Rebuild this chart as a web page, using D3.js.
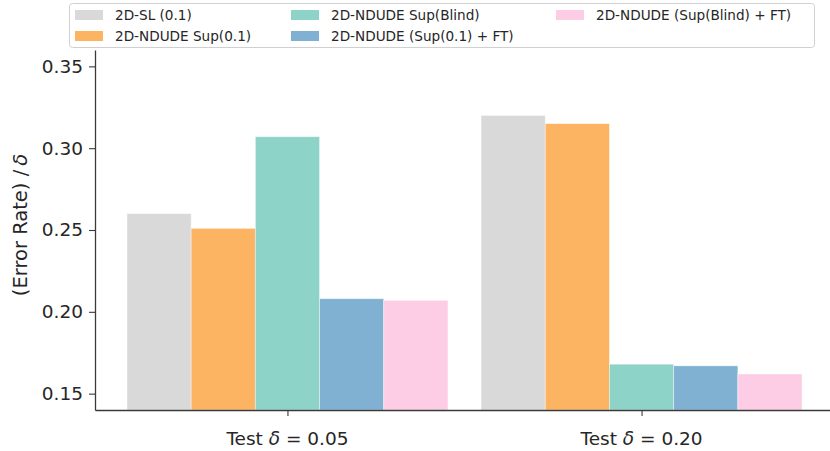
<!DOCTYPE html>
<html>
<head>
<meta charset="utf-8">
<script src="https://cdn.jsdelivr.net/npm/d3@7"></script>
<style>
  body { margin: 0; background: #fff; }
  text { font-family: "DejaVu Sans", sans-serif; fill: #262626; }
</style>
</head>
<body>
<div id="chart"></div>
<script>
// data
let groupLabels = ["Test δ = 0.05", "Test δ = 0.20"];
let seriesNames = [
    "2D-SL (0.1)",
    "2D-NDUDE Sup(0.1)",
    "2D-NDUDE Sup(Blind)",
    "2D-NDUDE (Sup(0.1) + FT)",
    "2D-NDUDE (Sup(Blind) + FT)"
];
let slValues = [0.260, 0.320];
let sup01Values = [0.251, 0.315];
let supBlindValues = [0.307, 0.168];
let sup01FtValues = [0.208, 0.167];
let supBlindFtValues = [0.207, 0.162];
let yTicks = [0.15, 0.20, 0.25, 0.30, 0.35];

let seriesValues = [slValues, sup01Values, supBlindValues, sup01FtValues, supBlindFtValues];
let colors = ["#d9d9d9", "#fdb462", "#8dd3c7", "#80b1d3", "#fccde5"];

let svgWidth = 830;
let svgHeight = 451;

let margin = { top: 50, left: 95, bottom: 41, right: -4 };
let width = svgWidth - margin.left - margin.right;
let height = svgHeight - margin.top - margin.bottom;

let svg = d3.select("#chart")
    .append("svg")
    .attr("width", svgWidth)
    .attr("height", svgHeight);

let chartGroup = svg.append("g")
    .attr("transform", `translate(${margin.left}, ${margin.top})`);

// scales
let barWidth = 0.1813;
let xLinearScale = d3.scaleLinear()
    .domain([-0.5435, 1.5435])
    .range([0, width]);

let yLinearScale = d3.scaleLinear()
    .domain([0.14, 0.36])
    .range([height, 0]);

// bars
let bars = [];
seriesValues.forEach(function (vals, s) {
    vals.forEach(function (v, g) {
        bars.push({ s: s, g: g, v: v });
    });
});

chartGroup.selectAll("rect.bar")
    .data(bars)
    .enter()
    .append("rect")
    .attr("class", "bar")
    .attr("x", d => xLinearScale(d.g + (d.s - 2) * barWidth - barWidth / 2))
    .attr("width", d => xLinearScale(barWidth) - xLinearScale(0))
    .attr("y", d => yLinearScale(d.v))
    .attr("height", d => height - yLinearScale(d.v))
    .attr("fill", d => colors[d.s])
    .attr("stroke", "#ffffff")
    .attr("stroke-opacity", 0.5)
    .attr("stroke-width", 0.8);

// axes
let yAxis = d3.axisLeft(yLinearScale)
    .tickValues(yTicks)
    .tickFormat(d3.format(".2f"))
    .tickSize(6)
    .tickPadding(6)
    .tickSizeOuter(0);

let xAxis = d3.axisBottom(xLinearScale)
    .tickValues([0, 1])
    .tickFormat("")
    .tickSize(6)
    .tickSizeOuter(0);

let yAxisG = chartGroup.append("g").call(yAxis);
let xAxisG = chartGroup.append("g")
    .attr("transform", `translate(0, ${height})`)
    .call(xAxis);

[yAxisG, xAxisG].forEach(function (ax) {
    ax.select(".domain").attr("stroke", "#3a3a3a").attr("stroke-width", 1.3);
    ax.selectAll(".tick line").attr("stroke", "#3a3a3a").attr("stroke-width", 1.1);
    ax.selectAll("text").attr("font-size", 18.5).attr("fill", "#262626")
        .style("font-family", "'DejaVu Sans', sans-serif");
});

// x group labels with italic delta
let xLabel = chartGroup.selectAll("text.grp")
    .data(groupLabels)
    .enter()
    .append("text")
    .attr("class", "grp")
    .attr("x", (d, i) => xLinearScale(i))
    .attr("y", height + 35)
    .attr("text-anchor", "middle")
    .attr("font-size", 18.5);

xLabel.each(function (d) {
    let parts = d.split("δ");
    let t = d3.select(this);
    t.append("tspan").text(parts[0]);
    t.append("tspan").attr("font-style", "italic").text("δ");
    t.append("tspan").text(parts[1]);
});

// y label
let yLab = svg.append("text")
    .attr("transform", `translate(27, ${margin.top + height / 2 - 5}) rotate(-90)`)
    .attr("text-anchor", "middle")
    .attr("font-size", 19.5);
yLab.append("tspan").text("(Error Rate) /");
yLab.append("tspan").attr("dx", 4).attr("font-style", "italic").text("δ");

// legend
let legend = svg.append("g");
legend.append("rect")
    .attr("x", 69.5)
    .attr("y", 3.5)
    .attr("width", 745)
    .attr("height", 44)
    .attr("rx", 3)
    .attr("fill", "#ffffff")
    .attr("fill-opacity", 0.85)
    .attr("stroke", "#d0d0d0");

let colX = [75, 291, 556];
let rowY = [15, 36];
let legendItems = legend.selectAll("g.item")
    .data(seriesNames)
    .enter()
    .append("g")
    .attr("class", "item")
    .attr("transform", (d, i) => `translate(${colX[Math.floor(i / 2)]}, ${rowY[i % 2]})`);

legendItems.append("rect")
    .attr("x", 0)
    .attr("y", -5)
    .attr("width", 28)
    .attr("height", 10)
    .attr("fill", (d, i) => colors[i]);

legendItems.append("text")
    .attr("x", 40)
    .attr("y", 0)
    .attr("dy", "0.36em")
    .attr("font-size", 13.6)
    .text(d => d);
</script>
</body>
</html>
